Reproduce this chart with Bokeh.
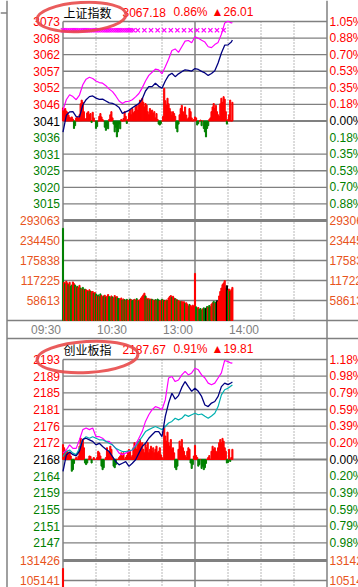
from bokeh.plotting import figure
from bokeh.models import Range1d
from bokeh.core.properties import value
from bokeh.embed import file_html
from bokeh.resources import INLINE

# ---------------------------------------------------------------- data
# intraday minutes since 09:30 (the lunch break is skipped, 240 = 15:00)
LINE_MINUTES = list(range(0, 154, 3)) + [154]
TIME_TICKS = [0, 60, 120, 180]
TIME_LABELS = ["09:30", "10:30", "13:00", "14:00"]

# 上证指数
SH_NAME = "上证指数"
SH_PREV = 3041.17
SH_QUOTE = ["3067.18", "0.86%", "▲26.01"]
SH_LEVEL_PCT = [1.05, 0.875, 0.70, 0.525, 0.35, 0.175, 0.0,
                -0.175, -0.35, -0.525, -0.70, -0.875]
SH_PRICE_LABELS = ["3073", "3068", "3062", "3057", "3052", "3046", "3041",
                   "3036", "3031", "3025", "3020", "3015"]
SH_PCT_LABELS = ["1.05%", "0.88%", "0.70%", "0.53%", "0.35%", "0.18%", "0.00%",
                 "0.18%", "0.35%", "0.53%", "0.70%", "0.88%"]
SH_VOL_LEVELS = [293063, 234450, 175838, 117225, 58613]
SH_VOL_LABELS = ["293063", "234450", "175838", "117225", "58613"]

SH_PRICE = [3037.6, 3043.0, 3044.1, 3044.2, 3042.6, 3042.5, 3046.3, 3048.0, 3049.0, 3049.2,
            3048.5, 3048.1, 3048.2, 3047.6, 3047.0, 3046.8, 3046.3, 3045.5, 3043.6, 3044.1,
            3044.6, 3045.4, 3046.1, 3046.8, 3048.2, 3050.8, 3052.2, 3052.2, 3053.3, 3052.3,
            3051.7, 3054.0, 3055.8, 3056.5, 3055.4, 3056.3, 3057.0, 3057.6, 3057.4, 3057.2,
            3058.0, 3057.7, 3057.1, 3056.6, 3055.8, 3056.4, 3057.3, 3059.8, 3063.0, 3065.5,
            3065.6, 3066.5, 3067.18]
SH_LEAD = [3044.6, 3048.0, 3049.6, 3049.0, 3048.0, 3049.5, 3052.8, 3054.6, 3055.2, 3054.8,
           3054.0, 3053.5, 3053.3, 3052.5, 3051.4, 3050.6, 3049.2, 3047.6, 3046.8, 3047.4,
           3047.5, 3048.0, 3048.9, 3050.0, 3051.8, 3054.0, 3055.8, 3056.8, 3057.8, 3057.6,
           3056.3, 3058.6, 3061.0, 3063.8, 3064.3, 3063.2, 3065.0, 3066.8, 3067.0, 3066.3,
           3068.2, 3067.7, 3067.1, 3066.5, 3065.0, 3064.7, 3065.7, 3066.4, 3069.0, 3072.6,
           3073.2, 3072.6, 3072.8]
SH_SIGNAL_MINUTES = list(range(0, 66, 2)) + list(range(68, 152, 6))
SH_SIGNAL_LEVEL = 3070.3

# buying / selling strength per minute, in index points
SH_FLOW = [4.2, 3.8, 4.0, 3.2, 2.8, 1.9, 1.2, 0.9, 1.3, 0.6,
           -2.4, -1.5, 1.0, 1.3, 0.8, 2.0, 5.5, 6.7, 6.0, 3.0,
           0.5, 0.8, 2.6, 3.0, 2.0, 2.4, -0.5, 2.8, 1.0, 0.0,
           -2.4, -1.8, 0.0, 1.5, 2.4, 1.3, 0.5, 0.0, -2.0, -3.0,
           -1.5, -2.5, 0.5, 2.0, 3.0, 1.0, -1.0, -3.5, -2.0, -5.1,
           -3.5, -1.0, -2.5, 0.5, 0.0, 0.8, 3.0, 1.5, -0.8, 0.5,
           2.5, 3.5, 2.0, 4.0, 2.6, 3.0, 4.5, 5.0, 3.5, 5.3,
           6.7, 5.6, 7.3, 6.0, 4.5, 5.6, 5.1, 3.0, 2.0, 4.0,
           3.0, 3.5, 2.4, 3.0, 1.0, 2.4, 0.5, -1.0, -1.3, -0.8,
           0.0, 1.5, 10.5, 6.5, 5.0, 7.3, 5.5, 4.0, 3.0, 1.9,
           3.0, 2.4, 1.5, -2.4, -3.5, -1.0, 2.0, 4.0, 5.0, 3.0,
           2.0, 4.5, 1.9, 0.5, 1.0, 4.0, 3.0, 1.0, 0.0, 0.5,
           1.3, 1.0, -1.3, -0.8, 0.0, 0.3, -1.5, 0.0, -2.4, -3.5,
           -5.1, -2.4, -1.5, 0.5, 1.0, 3.0, 4.5, 5.6, 4.0, 5.0,
           3.0, 2.0, 1.5, 5.5, 7.3, 6.0, 7.8, 7.0, 3.0, -1.0,
           0.5, 2.0, 6.7, 0.0, 6.0]

# volume per minute (shares x1000) and its direction: r up, g down, k flat
SH_VOLUME_K = [270,
               112, 108, 115, 110, 105, 112, 100, 104, 113, 108, 104, 98, 100, 96, 103, 95, 92, 97, 90,
               92, 90, 88, 85, 90, 86, 84, 85, 80, 82, 78,
               72, 75, 70, 78, 73, 69, 72, 74, 68, 71, 76, 70, 67, 72, 69, 66, 73, 68, 70, 65,
               64, 62, 66, 60, 63, 61, 58, 62, 60, 59, 63, 61, 58, 60, 62, 59, 64, 60, 57, 61,
               66, 70, 75, 80, 72, 66, 62, 64, 60, 63,
               62, 60, 58, 61, 59, 63, 60, 57, 58, 62, 60, 59, 56, 60, 58,
               66, 70, 73, 68, 71, 66, 64, 62, 60, 58, 56, 55,
               56, 54, 55, 50, 52, 48, 42, 47, 44, 40, 45, 41,
               138,
               40, 36, 38, 33, 35, 30, 34, 37, 32, 36, 41, 38, 44, 40,
               48, 52, 56, 50, 54, 58, 55,
               72, 85, 95, 105, 110, 117,
               95, 102, 88, 92, 85, 90, 97]
SH_VOLUME_DIR = ("g"
                 "rgrrgrggrrgrgrrgrgr"
                 "grrgrgrrgrg"
                 "rgrgrrgrgrrggrgrrgrg"
                 "grrgrgrgrrgrggrrgrgr"
                 "rrrrgrgrgr"
                 "grrgrggrrgrgrrg"
                 "rrrgrrgrgrrg"
                 "rrrgrrrgrrrr"
                 "r"
                 "ggrgggrggkgrgg"
                 "rrgrgkr"
                 "rrrrrr"
                 "rkgrgrr")

# 创业板指
CYB_NAME = "创业板指"
CYB_PREV = 2167.86
CYB_QUOTE = ["2187.67", "0.91%", "▲19.81"]
CYB_LEVEL_PCT = [1.18, 0.9833, 0.7867, 0.59, 0.3933, 0.1967, 0.0,
                 -0.1967, -0.3933, -0.59, -0.7867, -0.9833]
CYB_PRICE_LABELS = ["2193", "2189", "2185", "2181", "2176", "2172", "2168",
                    "2164", "2159", "2155", "2151", "2147"]
CYB_PCT_LABELS = ["1.18%", "0.98%", "0.79%", "0.59%", "0.39%", "0.20%", "0.00%",
                  "0.20%", "0.39%", "0.59%", "0.79%", "0.98%"]
CYB_VOL_LEVELS = [131426, 105141]
CYB_VOL_LABELS = ["131426", "105141"]

CYB_PRICE = [2164.8, 2169.0, 2169.8, 2169.1, 2168.8, 2170.0, 2173.0, 2173.3, 2172.9, 2172.5,
             2171.6, 2172.0, 2171.2, 2170.5, 2169.9, 2168.6, 2167.3, 2166.5, 2166.9, 2167.3,
             2166.1, 2166.9, 2167.8, 2169.5, 2171.2, 2172.0, 2173.3, 2174.2, 2175.0, 2175.0,
             2173.7, 2178.9, 2182.3, 2184.8, 2183.3, 2184.2, 2186.3, 2187.8, 2186.5, 2185.3,
             2186.1, 2185.3, 2184.0, 2181.8, 2181.4, 2182.3, 2182.7, 2184.0, 2186.5, 2187.4,
             2187.0, 2187.5, 2187.67]
CYB_LEAD = [2169.5, 2170.3, 2171.6, 2170.7, 2170.7, 2172.9, 2175.5, 2175.9, 2175.5, 2175.9,
            2173.7, 2173.7, 2173.3, 2172.5, 2172.5, 2171.6, 2170.7, 2169.5, 2169.1, 2169.5,
            2169.9, 2170.3, 2171.6, 2173.3, 2175.0, 2177.6, 2179.3, 2180.6, 2181.4, 2181.1,
            2180.6, 2183.1, 2188.7, 2189.1, 2187.8, 2188.2, 2189.5, 2190.4, 2189.5, 2190.0,
            2191.2, 2190.8, 2189.5, 2188.7, 2187.4, 2187.0, 2187.4, 2188.7, 2190.0, 2193.2,
            2192.9, 2192.5, 2192.6]
CYB_AVG = [2168.6, 2169.9, 2170.3, 2169.5, 2169.1, 2170.7, 2172.9, 2173.7, 2173.3, 2173.7,
           2173.3, 2172.9, 2172.9, 2172.5, 2172.0, 2171.6, 2170.7, 2170.3, 2169.9, 2169.9,
           2170.1, 2170.3, 2171.2, 2172.5, 2173.7, 2175.0, 2175.5, 2175.9, 2176.3, 2175.9,
           2175.5, 2176.3, 2177.2, 2177.6, 2178.4, 2178.0, 2178.4, 2179.3, 2178.9, 2179.3,
           2179.7, 2179.3, 2179.5, 2178.9, 2178.4, 2179.0, 2179.7, 2181.4, 2184.4, 2185.7,
           2186.1, 2186.7, 2186.9]
CYB_FLOW = [3.8, 3.0, 2.4, 1.7, 2.1, 1.2, 1.7, 0.9, -3.0, -2.6,
            -1.0, 0.0, 0.5, 0.0, 0.8, 3.4, 5.5, 4.3, 5.1, 3.0,
            -0.9, -1.3, -0.9, 0.0, 0.9, 0.8, -0.9, 0.0, 0.5, 0.0,
            0.0, 0.5, 2.1, 1.7, 0.9, -1.7, -2.6, -2.1, 0.0, 0.5,
            3.0, 2.1, 1.7, 3.4, 2.6, 0.5, -1.7, -2.1, -1.3, 0.0,
            0.0, 0.5, 0.9, 1.7, 0.9, 1.7, 0.0, 0.5, 1.0, 2.1,
            2.6, 2.1, 0.5, 1.0, 3.0, 4.3, 3.4, 2.6, 4.7, 3.8,
            5.1, 3.0, 4.3, 2.6, 1.7, 3.8, 3.0, 4.3, 1.7, 2.6,
            3.4, 2.1, 3.0, 1.7, 2.6, 3.4, 1.7, 2.1, 3.0, 1.2,
            0.5, 0.0, 8.5, 6.0, 4.7, 7.0, 4.3, 3.4, 5.1, 2.6,
            3.0, 1.7, -2.1, -2.6, -1.7, 2.6, 4.7, 3.4, 5.1, 3.0,
            2.1, 1.0, 0.5, 2.1, 3.0, 2.6, -0.9, -2.3, -1.3, 0.9,
            3.6, 1.0, 0.5, -1.7, -1.3, 0.0, -2.3, -1.7, -2.6, -2.1,
            -1.0, 0.0, 0.5, 1.0, 0.0, 2.1, 3.4, 2.6, 3.0, 2.1,
            1.7, 3.0, 4.3, 5.1, 4.3, 5.4, 4.7, 3.0, 2.1, -0.9,
            -0.8, 2.6, -0.5, 0.5, 2.6]
# opening-minute volume of 创业板指
CYB_VOLUME = [120900]

# ---------------------------------------------------------------- style
W, H = 358, 587
X_LEFT, X_RIGHT = 62.5, 326.5          # minute 0 and minute 240
PPM = (X_RIGHT - X_LEFT) / 240.0
NUM_FONT = value("Liberation Sans")
CJK_FONT = value("Noto Sans CJK SC")
RED, GREEN, BLACK = "#ff0000", "#008000", "#000000"
VOL_TXT = "#e8541c"
GRID = "#808080"
NAVY, MAGENTA, CYAN = "#000080", "#ff00ff", "#00b0b0"
RING = "#e84a4a"


def span(v_a, px_a, v_b, px_b):
    """Range whose values v_a / v_b land on canvas rows px_a / px_b."""
    k = (v_b - v_a) / (px_b - px_a)
    return Range1d(start=v_a + (H - px_a) * k, end=v_a - px_a * k)


p = figure(width=W, height=H, title=None, output_backend="svg", toolbar_location=None,
           x_range=Range1d(-X_LEFT / PPM, (W - X_LEFT) / PPM), y_range=Range1d(H, 0),
           x_axis_type=None, y_axis_type=None, min_border=0,
           outline_line_color=None, background_fill_color="white", border_fill_color="white")
p.grid.visible = False
p.extra_x_ranges = {"px": Range1d(0, W)}
p.extra_y_ranges = {
    "sh": span(SH_PREV, 120.5, SH_PREV * 1.0105, 21),
    "shv": span(0, 320, SH_VOL_LEVELS[0], 220),
    "cyb": span(CYB_PREV, 459, CYB_PREV * 1.0118, 359),
    "cybv": span(0, 660, CYB_VOL_LEVELS[0], 560),
}

# ---------------------------------------------------------------- frame
p.segment(x0=[6.5, 0, 326.5, 6.5, 6.5], y0=[0, 12.5, 0, 320, 338],
          x1=[6.5, 6.5, 326.5, W, W], y1=[H, 12.5, H, 320, 338],
          line_color=GRID, line_width=1.5, x_range_name="px")

for top, bottom in ((21, 320), (359, H)):
    p.segment(x0=[0, 120], y0=[top] * 2, x1=[0, 120], y1=[bottom] * 2,
              line_color=GRID, line_width=1.5)
    dots = [30, 60, 90, 150, 180, 210]
    p.segment(x0=dots, y0=[top] * 6, x1=dots, y1=[bottom] * 6,
              line_color="#707070", line_width=1, line_dash="1 2")


def hgrid(levels, yname, width):
    p.segment(x0=[0] * len(levels), x1=[240] * len(levels), y0=levels, y1=levels,
              line_color=GRID, line_width=width, y_range_name=yname)


for prev, pct, yname in ((SH_PREV, SH_LEVEL_PCT, "sh"), (CYB_PREV, CYB_LEVEL_PCT, "cyb")):
    lv = [prev * (1 + q / 100) for q in pct]
    hgrid([v for v, q in zip(lv, pct) if q > 0] + lv[8:], yname, 1.3)
    hgrid([prev], yname, 2.2)
hgrid(SH_VOL_LEVELS[1:], "shv", 1.3)
hgrid(SH_VOL_LEVELS[:1], "shv", 2.8)
hgrid(CYB_VOL_LEVELS[1:], "cybv", 1.3)
hgrid(CYB_VOL_LEVELS[:1], "cybv", 2.8)

# ---------------------------------------------------------------- bars
dir_color = {"r": RED, "g": GREEN, "k": BLACK}
minutes_all = list(range(len(SH_FLOW)))

p.vbar(x=minutes_all, width=1.0, bottom=SH_PREV, top=[SH_PREV + f for f in SH_FLOW],
       color=[RED if f >= 0 else GREEN for f in SH_FLOW], y_range_name="sh")
p.vbar(x=list(range(len(SH_VOLUME_K))), width=1.0, bottom=0,
       top=[v * 1000 for v in SH_VOLUME_K],
       color=[dir_color[c] for c in SH_VOLUME_DIR], y_range_name="shv")

p.vbar(x=list(range(len(CYB_FLOW))), width=1.0, bottom=CYB_PREV,
       top=[CYB_PREV + f for f in CYB_FLOW],
       color=[RED if f >= 0 else GREEN for f in CYB_FLOW], y_range_name="cyb")
p.vbar(x=list(range(len(CYB_VOLUME))), width=1.0, bottom=0, top=CYB_VOLUME,
       color=RED, y_range_name="cybv")

# ---------------------------------------------------------------- lines
p.line(LINE_MINUTES, SH_LEAD, line_color=MAGENTA, line_width=1.2, y_range_name="sh")
p.line(LINE_MINUTES, SH_PRICE, line_color=NAVY, line_width=1.3, y_range_name="sh")
p.scatter(SH_SIGNAL_MINUTES, [SH_SIGNAL_LEVEL] * len(SH_SIGNAL_MINUTES), marker="x",
          size=6, line_color=MAGENTA, line_width=1.3, y_range_name="sh")

p.line(LINE_MINUTES, CYB_LEAD, line_color=MAGENTA, line_width=1.2, y_range_name="cyb")
p.line(LINE_MINUTES, CYB_AVG, line_color=CYAN, line_width=1.2, y_range_name="cyb")
p.line(LINE_MINUTES, CYB_PRICE, line_color=NAVY, line_width=1.3, y_range_name="cyb")

# ---------------------------------------------------------------- labels


def tick_text(x, ys, texts, colors, yname, align):
    p.text(x=[x] * len(ys), y=ys, text=texts, text_color=colors,
           x_range_name="px", y_range_name=yname, text_align=align,
           text_baseline="middle", text_font=NUM_FONT, text_font_size="12px")


def sign_colors(pct):
    return [RED if q > 0 else (GREEN if q < 0 else BLACK) for q in pct]


for prev, pct, plab, qlab, yname in (
        (SH_PREV, SH_LEVEL_PCT, SH_PRICE_LABELS, SH_PCT_LABELS, "sh"),
        (CYB_PREV, CYB_LEVEL_PCT, CYB_PRICE_LABELS, CYB_PCT_LABELS, "cyb")):
    lv = [prev * (1 + q / 100) for q in pct]
    tick_text(59.5, lv, plab, sign_colors(pct), yname, "right")
    tick_text(329, lv, qlab, sign_colors(pct), yname, "left")

for levels, labs, yname in ((SH_VOL_LEVELS, SH_VOL_LABELS, "shv"),
                            (CYB_VOL_LEVELS, CYB_VOL_LABELS, "cybv")):
    tick_text(59.5, levels, labs, [VOL_TXT] * len(levels), yname, "right")
    tick_text(329, levels, labs, [VOL_TXT] * len(levels), yname, "left")

p.text(x=TIME_TICKS, y=[329] * len(TIME_TICKS), text=TIME_LABELS, x_offset=-2,
       text_align="right", text_baseline="middle", text_color="#808080",
       text_font=NUM_FONT, text_font_size="12px")

for name, quote, row in ((SH_NAME, SH_QUOTE, 12), (CYB_NAME, CYB_QUOTE, 349)):
    p.text(x=[63], y=[row], text=[name], text_color=BLACK, text_align="left",
           text_baseline="middle", text_font=CJK_FONT, text_font_size="12px",
           x_range_name="px")
    p.text(x=[122, 173, 211], y=[row - 0.5] * 3, text=quote, text_color=RED,
           text_align="left", text_baseline="middle", text_font=NUM_FONT,
           text_font_size="12px", x_range_name="px")

# hand-drawn rings around the index names
p.ellipse(x=[81, 87], y=[16.5, 356.5], width=[89, 101], height=[29, 31], angle=0.06,
          fill_color=None, line_color=RING, line_width=3, line_alpha=0.9,
          x_range_name="px")

open("out.html", "w").write(file_html(p, INLINE))
